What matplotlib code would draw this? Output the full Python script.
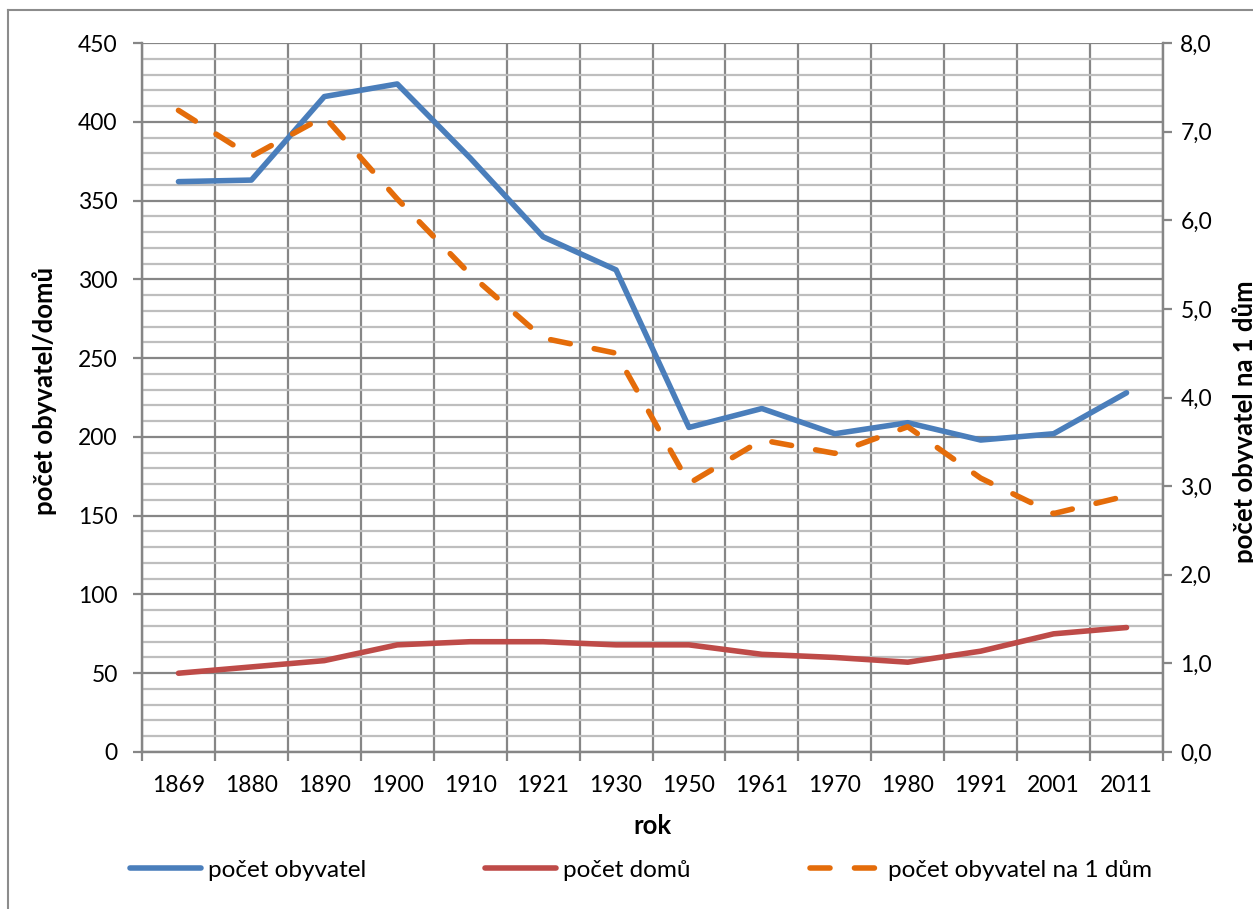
import matplotlib
matplotlib.use("Agg")
import matplotlib.pyplot as plt
from matplotlib.lines import Line2D
from matplotlib.ticker import MultipleLocator, FixedLocator

plt.rcParams['font.family'] = ['Lato', 'DejaVu Sans']

years = ["1869", "1880", "1890", "1900", "1910", "1921", "1930",
         "1950", "1961", "1970", "1980", "1991", "2001", "2011"]
obyvatel = [362, 363, 416, 424, 377, 327, 306, 206, 218, 202, 209, 198, 202, 228]
domu = [50, 54, 58, 68, 70, 70, 68, 68, 62, 60, 57, 64, 75, 79]
na_dum = [7.24, 6.72, 7.17, 6.24, 5.39, 4.67, 4.50, 3.03, 3.52, 3.37, 3.67, 3.09, 2.69, 2.89]
right_ticks = [0, 1, 2, 3, 4, 5, 6, 7, 8]
right_ticklabels = ["0,0", "1,0", "2,0", "3,0", "4,0", "5,0", "6,0", "7,0", "8,0"]

W, H = 1253, 909
fig = plt.figure(figsize=(W / 100, H / 100), dpi=100)
L, R, T, B = 142, 1163, 43, 752
ax = fig.add_axes([L / W, 1 - B / H, (R - L) / W, (B - T) / H])
ax2 = ax.twinx()

BLUE = "#4A7EBB"
RED = "#BE4B48"
ORANGE = "#E46C0A"
GRID_MAJ = "#868686"
GRID_MIN = "#BEBEBE"
TICK_FS = 16.5
LABEL_FS = 18.5

x = list(range(len(years)))
ax.set_xlim(-0.5, len(years) - 0.5)
ax.set_ylim(0, 450)
ax2.set_ylim(0, 8)

# gridlines
ax.yaxis.set_major_locator(MultipleLocator(50))
ax.yaxis.set_minor_locator(MultipleLocator(10))
ax.grid(which='minor', axis='y', color=GRID_MIN, lw=1.6, zorder=0)
ax.grid(which='major', axis='y', color=GRID_MAJ, lw=1.6, zorder=0)
ax.set_xticks(x)
ax.set_xticklabels(years)
ax.xaxis.set_minor_locator(FixedLocator([i - 0.5 for i in range(len(years) + 1)]))
ax.grid(which='minor', axis='x', color=GRID_MAJ, lw=1.6, zorder=0)
ax.tick_params(axis='x', which='major', length=0, pad=16.5, labelsize=TICK_FS)
ax.tick_params(axis='x', which='minor', length=6.5, width=1.6, color=GRID_MAJ)
ax.tick_params(axis='y', which='major', length=6.5, width=1.6, color=GRID_MAJ,
               labelsize=TICK_FS, pad=11)
ax.tick_params(axis='y', which='minor', length=0)
ax.set_axisbelow(True)

for a in (ax, ax2):
    a.spines['top'].set_visible(False)
    for s in ['left', 'bottom', 'right']:
        a.spines[s].set_color(GRID_MAJ)
        a.spines[s].set_linewidth(1.6)

ax2.set_yticks(right_ticks)
ax2.set_yticklabels(right_ticklabels)
ax2.tick_params(axis='y', length=6.5, width=1.6, color=GRID_MAJ, labelsize=TICK_FS, pad=6)

l1, = ax.plot(x, obyvatel, color=BLUE, lw=4, solid_capstyle='round',
              solid_joinstyle='round', zorder=3)
l2, = ax.plot(x, domu, color=RED, lw=4, solid_capstyle='round',
              solid_joinstyle='round', zorder=3)
l3, = ax2.plot(x, na_dum, color=ORANGE, lw=4, dashes=(3.6, 4.4), dash_capstyle='round',
               dash_joinstyle='round', zorder=3)

fig.text((L + R) / 2 / W, 1 - 826 / H, "rok", fontsize=LABEL_FS, fontweight='bold',
         ha='center', va='center')
fig.text(45 / W, 1 - 391 / H, "počet obyvatel/domů", rotation=90, fontsize=LABEL_FS,
         fontweight='bold', ha='center', va='center')
fig.text(1232 / W, 1 - 422 / H, "počet obyvatel na 1 dům", rotation=90, fontsize=LABEL_FS,
         fontweight='bold', ha='left', va='center')

fig.legend([l1, l2, l3], ["počet obyvatel", "počet domů", "počet obyvatel na 1 dům"],
           loc='center', bbox_to_anchor=(641 / W, 1 - 870 / H), ncol=3, frameon=False,
           fontsize=17.5, handlelength=2.9, handletextpad=0.3, columnspacing=4.9)

# outer chart border
fig.add_artist(Line2D([8 / W, 8 / W], [0, 1 - 10 / H], color="#8C8C8C", lw=1.5))
fig.add_artist(Line2D([8 / W, 1], [1 - 10 / H, 1 - 10 / H], color="#8C8C8C", lw=1.5))

fig.savefig("out.png", dpi=100)
